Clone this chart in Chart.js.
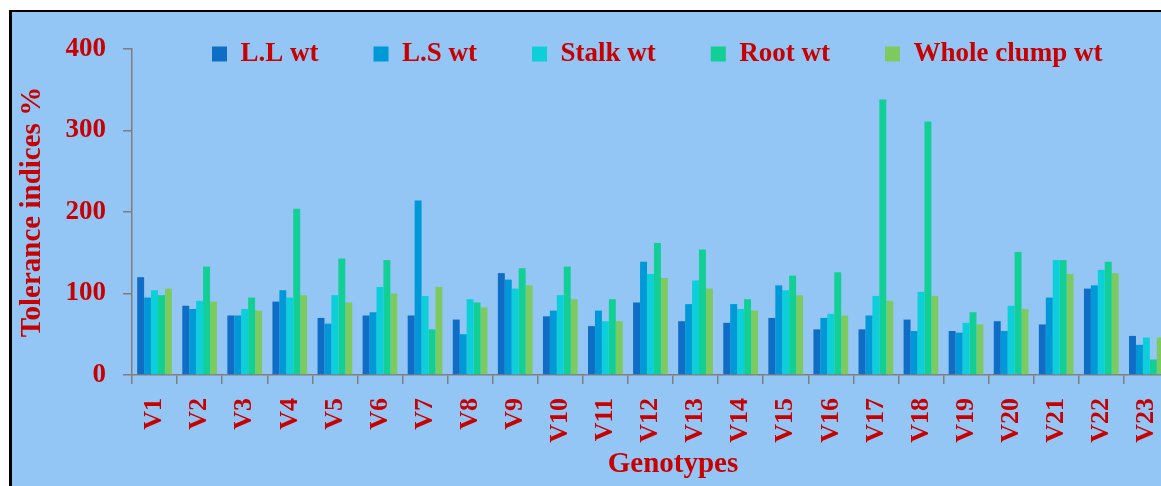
<!DOCTYPE html>
<html>
<head>
<meta charset="utf-8">
<script src="https://cdn.jsdelivr.net/npm/chart.js@4"></script>
<style>
    body { margin: 0; background: #ffffff; overflow: hidden; width: 1161px; height: 486px; position: relative; }
    #moldura {
        position: absolute; left: 9px; top: 10px;
        width: 1240px; height: 480px;
        border-left: 3px solid #000; border-top: 2px solid #000;
        background: #93c6f5;
    }
    #grafico { position: absolute; left: 0; top: 0; }
</style>
</head>
<body>
<div id="moldura">
    <canvas id="grafico" width="1232" height="474"></canvas>
</div>
<script>
const genotipos = ["V1","V2","V3","V4","V5","V6","V7","V8","V9","V10","V11","V12",
    "V13","V14","V15","V16","V17","V18","V19","V20","V21","V22","V23","V24"];

// V24 fica fora do recorte da imagem
const llWt    = [120, 85, 73, 90, 70, 73, 73, 68, 125, 72, 60, 89, 66, 64, 70, 56, 56, 68, 54, 66, 62, 106, 48, null];
const lsWt    = [95, 81, 73, 104, 63, 77, 214, 50, 117, 79, 79, 139, 87, 87, 110, 70, 73, 54, 52, 54, 95, 110, 37, null];
const stalkWt = [104, 91, 81, 95, 98, 108, 97, 93, 106, 98, 66, 124, 116, 81, 104, 75, 97, 102, 64, 85, 141, 129, 46, null];
const rootWt  = [98, 133, 95, 204, 143, 141, 56, 89, 131, 133, 93, 162, 154, 93, 122, 126, 338, 311, 77, 151, 141, 139, 19, null];
const wholeWt = [106, 90, 79, 98, 89, 100, 108, 83, 110, 93, 66, 119, 106, 79, 98, 73, 91, 97, 62, 81, 124, 125, 46, null];

const vermelho = "#c80000";
const cinza = "#7f7f7f";
const fonte = "'Liberation Serif', 'Times New Roman', serif";

// legenda fica dentro da area do grafico, como no original
const posLegenda = {
    id: "posLegenda",
    afterLayout(chart) {
        const lg = chart.legend;
        const pad = lg.options.labels.padding;
        lg.left = 200 - pad;
        lg.right = chart.width;
        lg.top = 42 - pad - 13.5;
        lg.bottom = 120;
    }
};

new Chart(document.getElementById("grafico").getContext("2d"), {
    type: "bar",
    data: {
        labels: genotipos,
        datasets: [
            { label: "L.L wt", data: llWt, backgroundColor: "#0f6dc6" },
            { label: "L.S wt", data: lsWt, backgroundColor: "#0099d8" },
            { label: "Stalk wt", data: stalkWt, backgroundColor: "#0ccfda" },
            { label: "Root wt", data: rootWt, backgroundColor: "#12cf95" },
            { label: "Whole clump wt", data: wholeWt, backgroundColor: "#7dcb60" }
        ]
    },
    options: {
        responsive: false,
        animation: false,
        devicePixelRatio: 1,
        datasets: { bar: { categoryPercentage: 0.77, barPercentage: 1.0, borderWidth: 0 } },
        layout: { padding: { top: 36, right: 30, bottom: 0, left: 0 } },
        plugins: {
            tooltip: { enabled: false },
            legend: {
                position: "top",
                align: "start",
                maxHeight: 1,
                labels: {
                    boxWidth: 15,
                    boxHeight: 15,
                    padding: 55,
                    color: vermelho,
                    font: { family: fonte, size: 27, weight: "bold" }
                }
            }
        },
        scales: {
            x: {
                grid: { display: true, drawOnChartArea: false, drawTicks: true, tickLength: 9, color: cinza, lineWidth: 1.5, offset: true },
                border: { color: cinza, width: 1.5 },
                ticks: {
                    autoSkip: false, minRotation: 90, maxRotation: 90, padding: 14,
                    color: vermelho, font: { family: fonte, size: 26, weight: "bold" }
                },
                title: {
                    display: true, text: "Genotypes", color: vermelho,
                    font: { family: fonte, size: 29, weight: "bold" },
                    padding: { top: 0, bottom: 4 }
                },
                afterFit: function(scale) { scale.height = 111; }
            },
            y: {
                min: 0, max: 400,
                grid: { display: true, drawOnChartArea: false, drawTicks: true, tickLength: 9, color: cinza, lineWidth: 1.5 },
                border: { color: cinza, width: 1.5 },
                ticks: {
                    stepSize: 100, padding: 17,
                    color: vermelho, font: { family: fonte, size: 27, weight: "bold" }
                },
                title: {
                    display: true, text: "Tolerance indices %", color: vermelho,
                    font: { family: fonte, size: 29, weight: "bold" },
                    padding: { top: 3, bottom: 0 }
                },
                afterFit: function(scale) { scale.width = 120; }
            }
        }
    },
    plugins: [posLegenda]
});
</script>
</body>
</html>
